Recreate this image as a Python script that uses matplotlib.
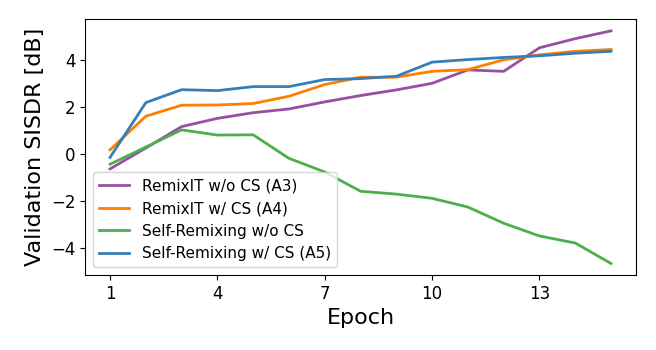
import numpy as np
import matplotlib.pyplot as plt

epochs = np.arange(1, 16)
remixit_wo = [-0.65, 0.24, 1.15, 1.50, 1.74, 1.90, 2.20, 2.47, 2.71, 2.99, 3.56, 3.50, 4.50, 4.89, 5.22]
remixit_w = [0.16, 1.59, 2.06, 2.07, 2.13, 2.44, 2.94, 3.25, 3.25, 3.50, 3.57, 3.99, 4.20, 4.35, 4.43]
selfremix_wo = [-0.45, 0.28, 1.01, 0.79, 0.80, -0.20, -0.78, -1.60, -1.72, -1.90, -2.27, -2.96, -3.50, -3.80, -4.67]
selfremix_w = [-0.16, 2.17, 2.72, 2.68, 2.85, 2.85, 3.15, 3.19, 3.29, 3.89, 4.00, 4.09, 4.16, 4.27, 4.35]

fig = plt.figure(figsize=(6.56, 3.5), dpi=100)
ax = fig.add_axes([0.1296, 0.214, 0.84, 0.731])

ax.plot(epochs, remixit_wo, color='#984ea3', lw=2, label='RemixIT w/o CS (A3)')
ax.plot(epochs, remixit_w, color='#ff7f00', lw=2, label='RemixIT w/ CS (A4)')
ax.plot(epochs, selfremix_wo, color='#4daf4a', lw=2, label='Self-Remixing w/o CS')
ax.plot(epochs, selfremix_w, color='#377eb8', lw=2, label='Self-Remixing w/ CS (A5)')

ax.set_xticks([1, 4, 7, 10, 13])
ax.set_yticks([-4, -2, 0, 2, 4])
ax.tick_params(labelsize=12)
ax.set_xlabel('Epoch', fontsize=16)
ax.set_ylabel('Validation SISDR [dB]', fontsize=16)
ax.legend(loc='lower left', fontsize=11)

plt.savefig('out.png')
